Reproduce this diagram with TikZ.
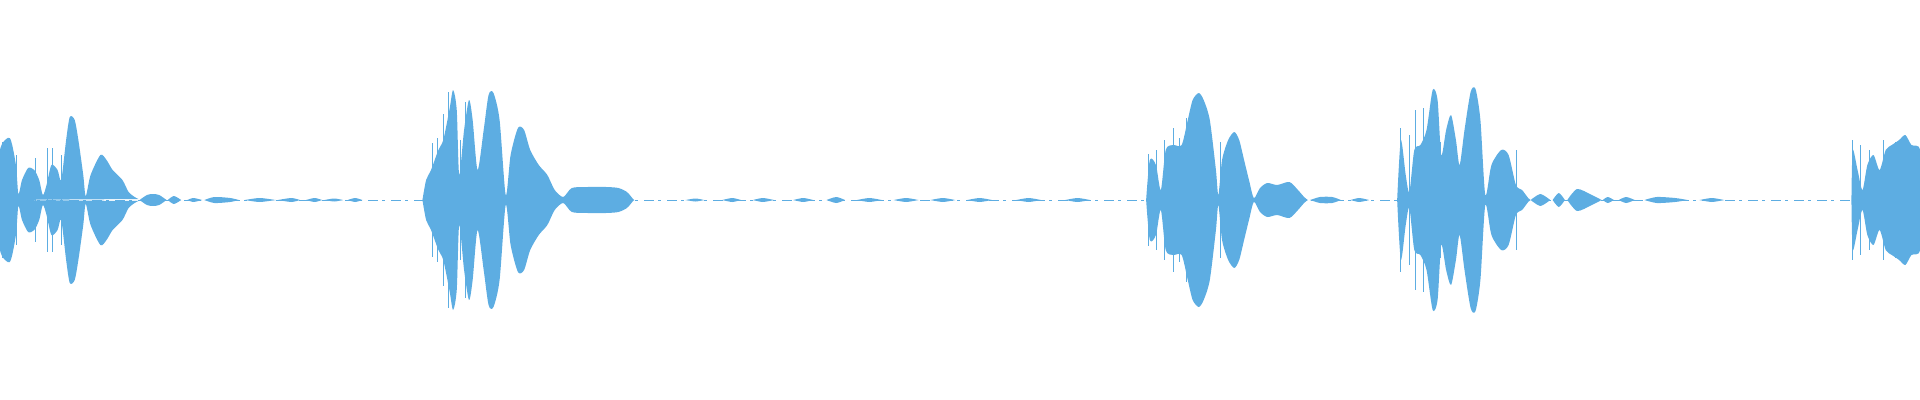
\documentclass[tikz,border=0pt]{standalone}
\begin{document}
\definecolor{wc}{HTML}{5DADE2}
\tikzset{wv/.style={fill=wc}, sp/.style={draw=wc,line width=0.7pt}}
\newcommand\env[1]{\fill[wv] plot[smooth,tension=.45] coordinates {#1} -- cycle;
\fill[wv,yscale=-1] plot[smooth,tension=.45] coordinates {#1} -- cycle;}
\begin{tikzpicture}[x=1.2245pt,y=1pt]
\useasboundingbox (0,-200) rectangle (1568,200);
\draw[wc,line width=0.8pt,dash pattern=on 10pt off 4pt on 3pt off 6pt] (0,0) -- (1568,0);
% segment 1
\env{(0,0)(0,50)(8,62)(13,35)(15,6)(18,20)(23,32)(28,30)(32,20)(35,5)(38,15)(42,35)(47,30)(50,20)(54,60)(57,83)(61,80)(64,60)(68,25)(70,4)(74,25)(82,45)(87,40)(92,30)(100,20)(105,8)(110,3)(113,1)}
\env{(114,0)(120,5)(125,6)(130,5)(136,0)}
\env{(137,0)(142,4)(148,0)}
\env{(153,0)(158,2)(165,0)}
\env{(167,0)(175,3)(188,2)(195,0)}
\env{(200,0)(212,2)(225,0)}
\env{(227,0)(238,2)(245,0)}
\env{(250,0)(257,2)(263,0)}
\env{(265,0)(273,1.5)(280,0)}
\env{(284,0)(290,2)(296,0)}
% segment 2
\env{(345,0)(348,20)(352,30)(358,50)(362,60)(367,90)(370,110)(373,90)(375,25)(379,70)(383,100)(386,80)(390,30)(395,70)(399,105)(403,107)(408,80)(413,5)(417,45)(423,72)(428,70)(433,50)(440,35)(447,25)(453,10)(460,3)(467,12)(480,13)(495,13)(505,12)(512,8)(517,1)(518,0)}
\env{(560,0)(568,1.5)(575,0)}
\env{(590,0)(598,2)(605,0)}
\env{(615,0)(623,2)(632,0)}
\env{(648,0)(656,2)(664,0)}
\env{(675,0)(683,3)(690,0)}
\env{(700,0)(710,2)(720,0)}
\env{(730,0)(740,2)(750,0)}
\env{(760,0)(770,2)(780,0)}
\env{(790,0)(800,2)(810,0)}
\env{(830,0)(840,2)(850,0)}
\env{(870,0)(880,2)(890,0)}
\begin{scope}[shift={(-202,0)}]
% segment 3
\env{(1138,0)(1141,40)(1146,35)(1150,10)(1154,50)(1160,55)(1167,55)(1172,80)(1176,100)(1181,107)(1185,100)(1190,80)(1195,30)(1197,5)(1200,40)(1205,60)(1210,68)(1214,60)(1218,40)(1222,20)(1226,2)(1231,12)(1237,17)(1245,15)(1255,18)(1262,10)(1267,3)(1270,0)}
\env{(1272,0)(1280,3)(1290,3)(1297,0)}
\env{(1305,0)(1312,2)(1320,0)}
% segment 4
\env{(1343,0)(1346,60)(1350,25)(1353,8)(1357,50)(1362,55)(1367,70)(1372,110)(1376,100)(1379,45)(1383,70)(1387,85)(1391,60)(1394,35)(1398,70)(1403,108)(1407,111)(1411,80)(1415,5)(1420,35)(1428,50)(1434,45)(1440,15)(1445,10)(1450,2)(1452,0)}
\env{(1452,0)(1460,6)(1468,0)}
\env{(1470,0)(1475,7)(1480,0)}
\env{(1482,0)(1490,11)(1502,5)(1510,0)}
\env{(1511,0)(1515,3)(1520,0)}
\env{(1524,0)(1530,3)(1537,0)}
\env{(1545,0)(1555,3)(1570,2)(1580,0)}
\env{(1590,0)(1600,2)(1610,0)}
\foreach \x/\h in {1140/46,1146/50,1153/60,1160/72,1165/62,1171/82,1199/58,1346/72,1353/65,1358/90,1364/92,1378/58,1440/50}
  \draw[sp] (\x,\h) -- (\x,-\h);
\end{scope}
% segment 5
\env{(1512,0)(1513,50)(1517,30)(1521,10)(1525,35)(1530,45)(1535,30)(1540,50)(1545,55)(1551,60)(1556,65)(1561,55)(1568,50)(1568,0)}
% spikes
\foreach \x/\h in {2/58,13/45,29/42,39/52,43/52,50/45,353/57,357/62,362/86,366/108,376/60,380/98,1513/60,1519/55,1527/50,1538/60,1548/58}
  \draw[sp] (\x,\h) -- (\x,-\h);
\end{tikzpicture}
\end{document}
